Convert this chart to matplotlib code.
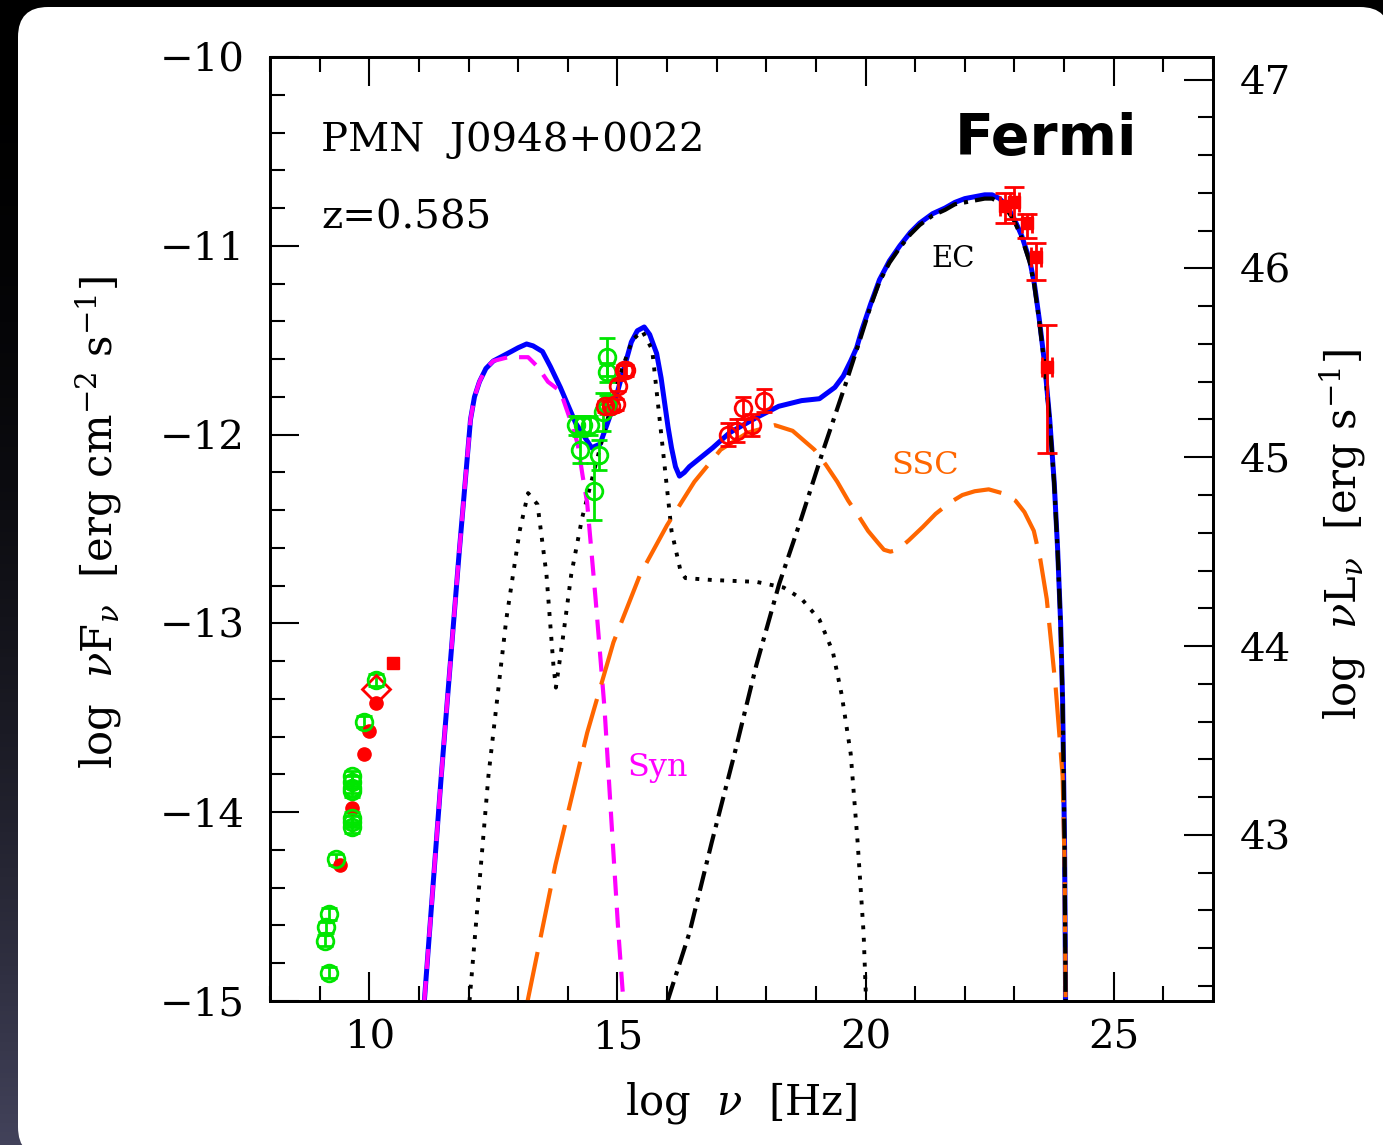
import numpy as np
import matplotlib
matplotlib.use("Agg")
import matplotlib.pyplot as plt
from matplotlib.patches import FancyBboxPatch
from matplotlib.transforms import IdentityTransform
from matplotlib.ticker import MultipleLocator
from matplotlib.colors import LinearSegmentedColormap

plt.rcParams["font.family"] = "DejaVu Serif"
plt.rcParams["mathtext.fontset"] = "dejavuserif"

# --- modelo: log nu vs log nuFnu ---
tot_x = [11.11, 11.45, 11.81, 12.04, 12.12, 12.22, 12.35, 12.5, 12.86, 13.0, 13.17, 13.3, 13.49,
         13.65, 13.85, 14.16, 14.48, 14.65, 14.92, 15.1, 15.28, 15.4, 15.54, 15.65, 15.79,
         15.88, 15.95, 16.02, 16.09, 16.17, 16.25, 16.35, 16.45, 16.92, 17.26, 17.8,
         18.25, 18.71, 19.07, 19.38, 19.55, 19.7, 19.82, 19.92, 20.1, 20.28, 20.48, 20.69,
         20.9, 21.09, 21.35, 21.6, 21.8, 22.0, 22.2, 22.4, 22.55, 22.7, 22.85, 23.0, 23.15,
         23.31, 23.4, 23.5, 23.61, 23.71, 23.8, 23.87, 23.93, 23.97, 24.01, 24.03]
tot_y = [-15.0, -13.81, -12.63, -11.92, -11.80, -11.72, -11.65, -11.61, -11.56, -11.54, -11.52, -11.53, -11.56,
         -11.64, -11.75, -11.94, -12.07, -12.05, -11.85, -11.68, -11.51, -11.45, -11.43, -11.47, -11.57,
         -11.70, -11.83, -11.96, -12.07, -12.17, -12.22, -12.20, -12.17, -12.07, -11.99, -11.91,
         -11.85, -11.82, -11.81, -11.75, -11.69, -11.61, -11.54, -11.45, -11.31, -11.18, -11.08, -11.0,
         -10.93, -10.88, -10.83, -10.80, -10.77, -10.75, -10.74, -10.73, -10.73, -10.75, -10.79, -10.86, -10.95,
         -11.08, -11.20, -11.39, -11.63, -11.92, -12.25, -12.61, -13.0, -13.41, -14.2, -15.0]

syn_x = [11.11, 11.45, 11.81, 12.04, 12.12, 12.22, 12.35, 12.5, 12.8, 13.2, 13.39, 13.6,
         13.85, 14.1, 14.2, 14.3, 14.39, 14.56, 14.74, 14.88, 15.02, 15.12]
syn_y = [-15.0, -13.81, -12.63, -11.92, -11.80, -11.72, -11.65, -11.61, -11.59, -11.59, -11.64, -11.72,
         -11.77, -11.96, -12.05, -12.22, -12.36, -12.87, -13.45, -14.05, -14.64, -15.0]

ssc_x = [13.19, 13.75, 14.39, 14.92, 15.46, 16.0, 16.55, 17.08, 17.62, 18.17, 18.53, 18.97,
         19.2, 19.43, 19.65, 19.88, 20.05, 20.24, 20.37, 20.5, 20.65, 20.87, 21.15, 21.41, 21.7,
         21.95, 22.2, 22.48, 22.75, 23.02, 23.2, 23.39, 23.52, 23.65, 23.83, 23.97, 24.01, 24.03]
ssc_y = [-15.0, -14.28, -13.58, -13.1, -12.74, -12.48, -12.25, -12.08, -11.99, -11.95, -11.98, -12.08,
         -12.16, -12.25, -12.35, -12.44, -12.51, -12.57, -12.61, -12.62, -12.61, -12.56, -12.49, -12.42, -12.36,
         -12.32, -12.30, -12.29, -12.31, -12.35, -12.41, -12.51, -12.66, -12.87, -13.34, -13.81, -14.28, -15.0]

ec_x = [16.01, 16.45, 16.9, 17.36, 17.8, 18.26, 18.71, 19.15, 19.6, 19.92, 20.1, 20.28, 20.48,
        20.69, 20.9, 21.09, 21.35, 21.6, 21.8, 22.0, 22.2, 22.4, 22.55, 22.7, 22.85, 23.0, 23.15,
        23.31, 23.4, 23.5, 23.61, 23.71, 23.8, 23.87, 23.93, 23.97, 24.01, 24.03]
ec_y = [-15.0, -14.64, -14.16, -13.69, -13.22, -12.79, -12.44, -12.08, -11.73, -11.47, -11.32, -11.19, -11.09,
        -11.01, -10.94, -10.89, -10.84, -10.81, -10.78, -10.77, -10.76, -10.75, -10.75, -10.77, -10.81, -10.87, -10.96,
        -11.09, -11.21, -11.40, -11.64, -11.93, -12.26, -12.62, -13.01, -13.42, -14.2, -15.0]

# disco + toro + corona (punteado)
th_x = [12.02, 12.4, 12.76, 13.03, 13.2, 13.39, 13.57, 13.71, 13.76, 13.89, 14.07, 14.29,
        14.6, 15.0, 15.3, 15.5, 15.7, 15.9, 16.09, 16.27, 16.37, 16.9, 17.8, 18.35, 18.71,
        19.07, 19.34, 19.52, 19.7, 19.84, 19.96, 20.01]
th_y = [-15.0, -13.81, -12.98, -12.51, -12.31, -12.37, -12.74, -13.22, -13.34, -13.1, -12.74, -12.44,
        -12.12, -11.72, -11.5, -11.45, -11.55, -12.04, -12.51, -12.72, -12.76, -12.77, -12.78, -12.81, -12.87,
        -12.98, -13.15, -13.38, -13.69, -14.16, -14.64, -15.0]

# --- datos ---
# radio / IR verdes (circulos abiertos)
gr_x = [9.19, 9.13, 9.11, 9.19, 9.33, 9.66, 9.66, 9.66, 9.66, 9.66, 9.66, 9.66, 9.9, 10.14]
gr_y = [-14.54, -14.61, -14.68, -14.85, -14.25, -13.81, -13.84, -13.87, -13.89, -14.03, -14.05, -14.08, -13.52, -13.30]
gr_e = [0.03] * 14
# optico / UV verdes
go_x = [14.17, 14.3, 14.44, 14.25, 14.62, 14.52, 14.7, 14.8, 14.79, 14.79]
go_y = [-11.95, -11.95, -11.95, -12.08, -12.11, -12.30, -11.88, -11.84, -11.59, -11.67]
go_e = [0.05, 0.05, 0.05, 0.07, 0.08, 0.15, 0.1, 0.05, 0.1, 0.05]
# optico / UV rojos
ro_x = [14.74, 14.88, 14.97, 15.02, 15.14, 15.18]
ro_y = [-11.85, -11.85, -11.84, -11.74, -11.66, -11.66]
ro_e = [0.03] * 6
# rayos X
rx_x = [17.22, 17.4, 17.54, 17.72, 17.96]
rx_y = [-12.0, -11.98, -11.86, -11.95, -11.82]
rx_e = [0.06] * 5
# radio rojos (circulos llenos)
rr_x = [9.41, 9.66, 9.9, 10.0, 10.14]
rr_y = [-14.28, -13.98, -13.69, -13.57, -13.42]
# Fermi
fe_x = [22.8, 23.0, 23.25, 23.43, 23.65]
fe_y = [-10.79, -10.77, -10.88, -11.06, -11.64]
fe_lo = [0.09, 0.09, 0.08, 0.12, 0.46]
fe_hi = [0.07, 0.08, 0.05, 0.075, 0.22]

LOG_L_OFFSET = 57.12

GREEN = "#00e600"
RED = "#ff0000"
BLUE = "#0000ff"
MAGENTA = "#ff00ff"
ORANGE = "#ff6600"

W, H = 1383, 1145
fig = plt.figure(figsize=(W / 100, H / 100), dpi=100)

# fondo oscuro con degradado + panel blanco redondeado
bg = fig.add_axes([0, 0, 1, 1], zorder=-10)
grad = np.linspace(0, 1, 256).reshape(-1, 1) ** 2
cmap = LinearSegmentedColormap.from_list("bg", ["#000000", "#42425a"])
bg.imshow(grad, aspect="auto", cmap=cmap, extent=[0, 1, 0, 1], origin="upper")
bg.set_axis_off()

panel = FancyBboxPatch((18, -12), 1372, 1150, boxstyle="round,pad=0,rounding_size=30",
                       transform=IdentityTransform(), facecolor="white", edgecolor="none", zorder=-5)
fig.add_artist(panel)

ax = fig.add_axes([270 / W, 1 - 1001 / H, (1213 - 270) / W, (1001 - 57) / H])

# curvas del modelo
ax.plot(tot_x, tot_y, color=BLUE, lw=3.6, zorder=3)
ax.plot(th_x, th_y, color="k", lw=2.8, dashes=(1, 2.2), zorder=4)
ax.plot(syn_x, syn_y, color=MAGENTA, lw=3, dashes=(4.8, 2.9), zorder=4)
ax.plot(ssc_x, ssc_y, color=ORANGE, lw=3, dashes=(12, 3.6), zorder=4)
ax.plot(ec_x, ec_y, color="k", lw=3, dashes=(4.8, 1.7, 1, 1.7), zorder=4)

# datos
kw_open = dict(fmt="o", mfc="none", ms=12, mew=2, capsize=6, elinewidth=2, capthick=2, zorder=6)
ax.errorbar(gr_x, gr_y, yerr=gr_e, mec=GREEN, ecolor=GREEN, **kw_open)
ax.errorbar(go_x, go_y, yerr=go_e, mec=GREEN, ecolor=GREEN, **kw_open)
ax.errorbar(ro_x, ro_y, yerr=ro_e, mec=RED, ecolor=RED, **kw_open)
ax.errorbar(rx_x, rx_y, yerr=rx_e, mec=RED, ecolor=RED, **kw_open)
ax.plot(rr_x, rr_y, "o", color=RED, ms=9.5, zorder=6)
ax.plot([10.14], [-13.35], "D", mfc="none", mec=RED, ms=14, mew=2, zorder=6)
ax.errorbar([10.48], [-13.21], yerr=0.02, fmt="s", color=RED, ms=8, capsize=4, zorder=6)
ax.errorbar(fe_x, fe_y, yerr=[fe_lo, fe_hi], xerr=0.1, fmt="s", color=RED, ms=9,
            capsize=7, elinewidth=2, capthick=2, zorder=6)

# textos
ax.text(9.03, -10.50, "PMN  J0948+0022", fontsize=29, ha="left", va="baseline")
ax.text(9.03, -10.906, "z=0.585", fontsize=29, ha="left", va="baseline")
ax.text(25.48, -10.52, "Fermi", fontsize=41, fontweight="bold", family="DejaVu Sans",
        ha="right", va="baseline")
ax.text(21.33, -11.11, "EC", fontsize=21, va="baseline")
ax.text(20.52, -12.21, "SSC", fontsize=23, color=ORANGE, va="baseline")
ax.text(15.2, -13.81, "Syn", fontsize=23, color=MAGENTA, va="baseline")

ax.set_xlim(8, 27)
ax.set_ylim(-15, -10)
ax.xaxis.set_major_locator(MultipleLocator(5))
ax.xaxis.set_minor_locator(MultipleLocator(1))
ax.yaxis.set_major_locator(MultipleLocator(1))
ax.yaxis.set_minor_locator(MultipleLocator(0.2))
ax.tick_params(which="both", direction="in", top=True, right=False, width=1.5, labelsize=29)
ax.tick_params(which="major", length=21)
ax.tick_params(which="minor", length=10.5)
ax.tick_params(axis="x", pad=13)
ax.tick_params(axis="y", pad=18)
for s in ax.spines.values():
    s.set_linewidth(2)

ax.set_xlabel(r"log  $\nu$  [Hz]", fontsize=30)
ax.xaxis.set_label_coords(0.5, -0.084)
ax.set_ylabel(r"log  $\nu$F$_\nu$  [erg cm$^{-2}$ s$^{-1}$]", fontsize=30)
ax.yaxis.set_label_coords(-0.155, 0.507)

ax2 = ax.twinx()
ax2.set_ylim(-15 + LOG_L_OFFSET, -10 + LOG_L_OFFSET)
ax2.yaxis.set_major_locator(MultipleLocator(1))
ax2.yaxis.set_minor_locator(MultipleLocator(0.2))
ax2.tick_params(which="both", direction="in", left=False, right=True, width=1.5, labelsize=29, pad=19)
ax2.tick_params(which="major", length=21)
ax2.tick_params(which="minor", length=10.5)
for s in ax2.spines.values():
    s.set_linewidth(2)
ax2.set_ylabel(r"log  $\nu$L$_\nu$  [erg s$^{-1}$]", fontsize=30)
ax2.yaxis.set_label_coords(1.111, 0.494)

fig.savefig("out.png", dpi=100)
